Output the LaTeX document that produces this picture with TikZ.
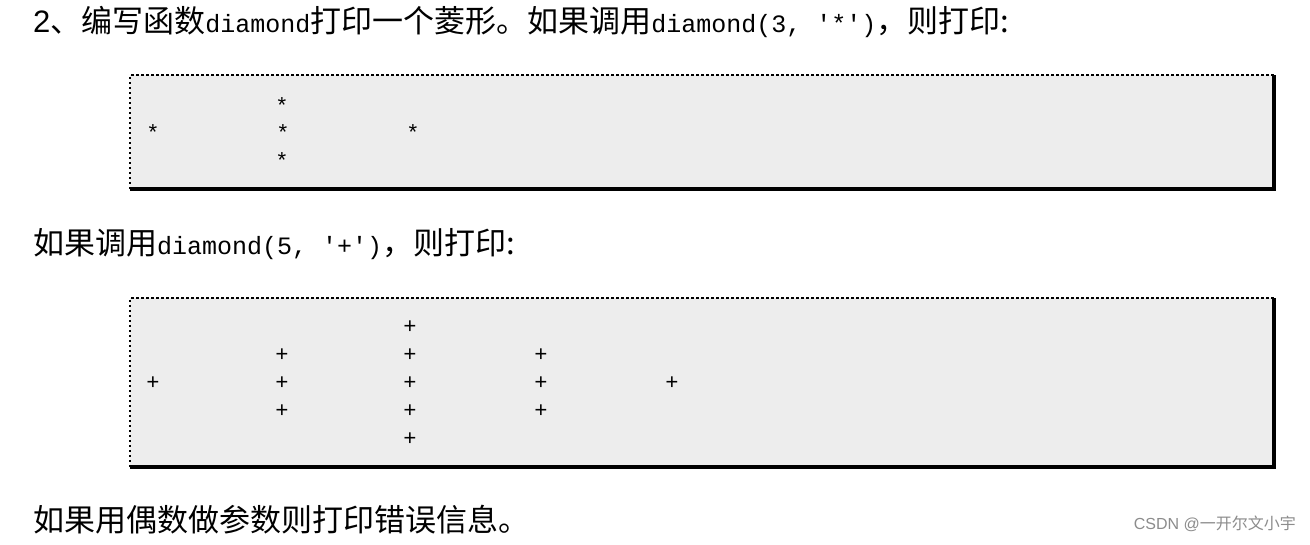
\documentclass[tikz,border=0pt]{standalone}
\usepackage{fontspec}
\setmainfont{Liberation Sans}
\setmonofont{Liberation Mono}
\newfontfamily\cjk{Noto Sans CJK SC}
\newcommand\mymono{\ttfamily\fontsize{25}{25}\selectfont}
\begin{document}
\begin{tikzpicture}[x=1pt,y=-1pt,
 txt/.style={anchor=west,inner sep=0pt,font=\fontsize{31}{31}\selectfont},
 ch/.style={inner sep=0pt,font=\ttfamily\fontsize{22}{22}\selectfont},
 boxfill/.style={fill=black!7},
 dot/.style={dash pattern=on 2.5pt off 2.5pt,line width=2pt},
 heavy/.style={line width=3.5pt}]
\useasboundingbox (0,0) rectangle (1310,544);
\fill[white] (0,0) rectangle (1310,544);
\node[txt] (t1) at (33,22) {2{\cjk 、编写函数}{\mymono diamond}{\cjk 打印一个菱形。如果调用}{\mymono diamond(3, '*')}{\cjk ，则打印:}};
% box 1
\fill[boxfill] (130,75) rectangle (1274,189);
\draw[dot] (130,189) -- (130,75) -- (1274,75);
\draw[heavy] (130,189) -- (1274,189) -- (1274,75);
\foreach \x/\y/\n in {282/106/a,153/133/b,283/133/c,413/133/d,282/161/e}
  \node[ch] (s\n) at (\x,\y) {*};
\node[txt] (t2) at (33,244) {{\cjk 如果调用}{\mymono diamond(5, '+')}{\cjk ，则打印:}};
% box 2
\fill[boxfill] (130,298) rectangle (1274,467);
\draw[dot] (130,467) -- (130,298) -- (1274,298);
\draw[heavy] (130,467) -- (1274,467) -- (1274,298);
\foreach \x/\y/\n in {410/327/a,282/355/b,410/355/c,541/355/d,153/383/e,282/383/f,410/383/g,541/383/h,672/383/i,282/411/j,410/411/k,541/411/l,410/439/m}
  \node[ch] (p\n) at (\x,\y) {+};
\node[txt] (t3) at (33,520) {\cjk 如果用偶数做参数则打印错误信息。};
\node[anchor=east,inner sep=0pt,text=black!45,font=\fontsize{16}{16}\selectfont] (wm) at (1296,524) {CSDN @{\cjk 一开尔文小宇}};
\end{tikzpicture}
\end{document}
